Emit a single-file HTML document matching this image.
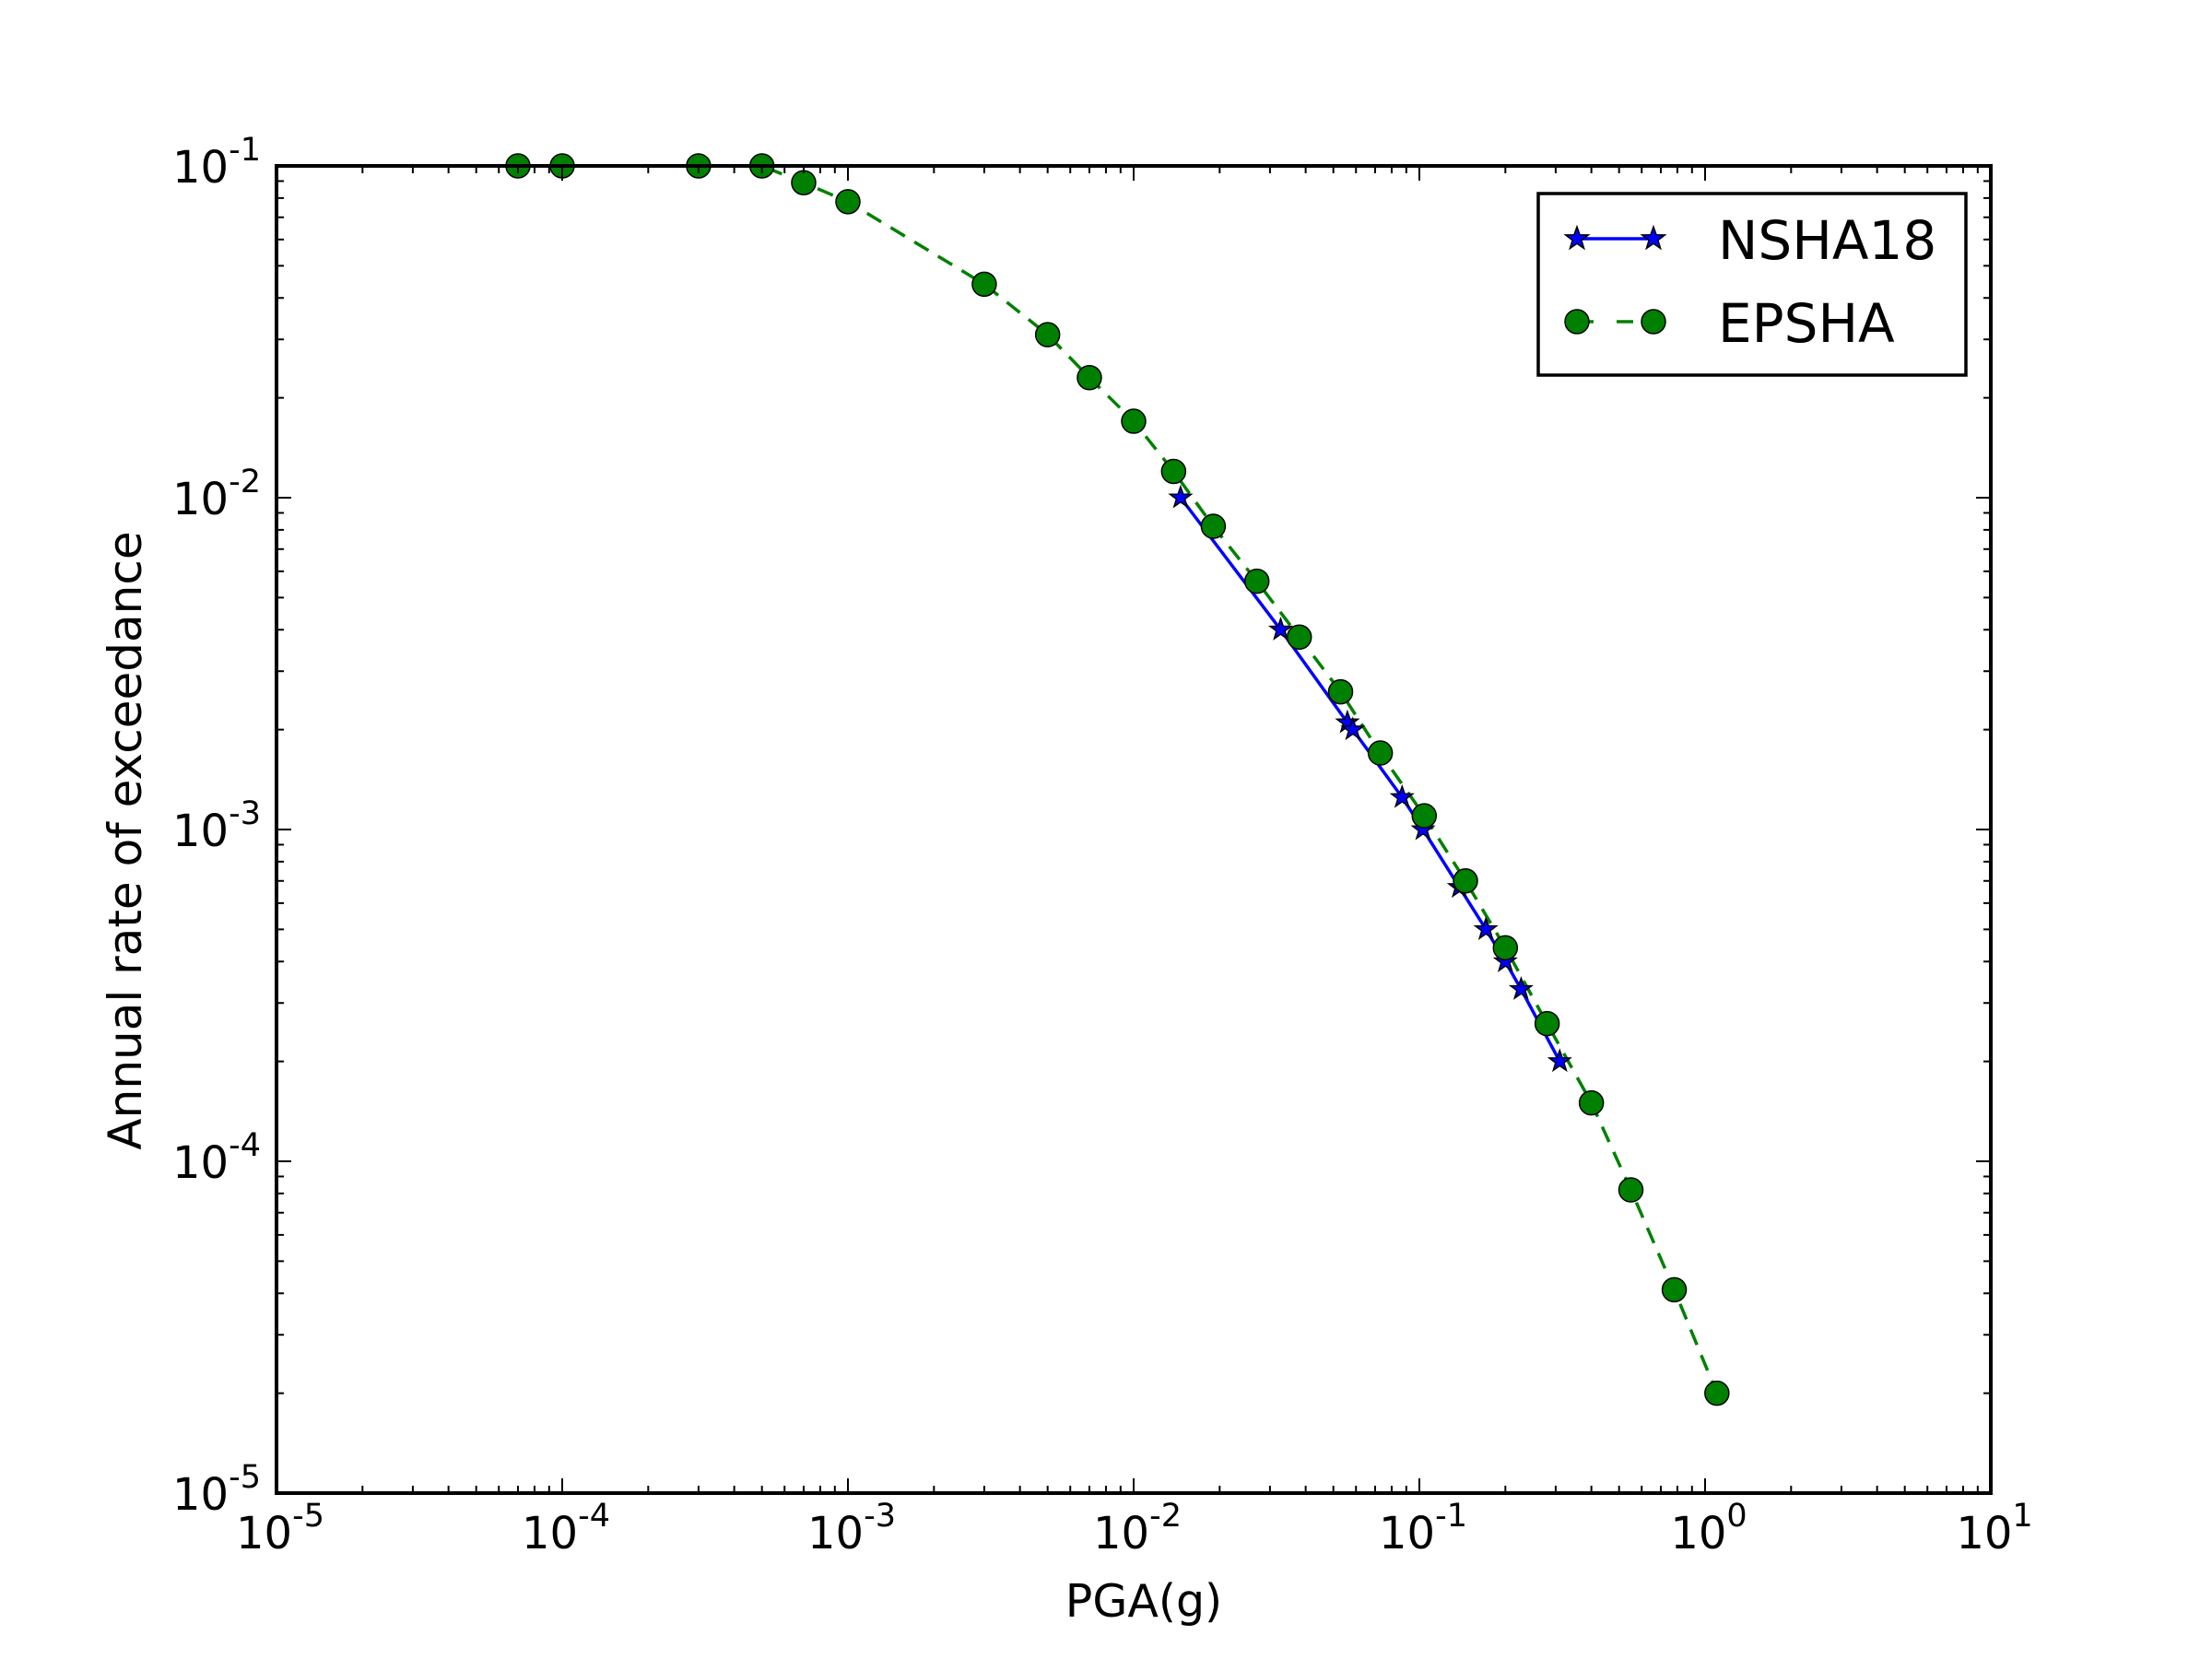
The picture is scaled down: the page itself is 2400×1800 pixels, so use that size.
<!DOCTYPE html>
<html><head><meta charset="utf-8"><style>
html,body{margin:0;padding:0;background:#fff;}
svg{display:block;font-family:"DejaVu Sans","Liberation Sans",sans-serif;}
</style></head><body>
<svg id="chart" width="2400" height="1800" viewBox="0 0 2400 1800" xmlns="http://www.w3.org/2000/svg">
<rect width="2400" height="1800" fill="#fff"/>
<g id="series"></g>
<g id="ticks"></g>
<rect x="300" y="180" width="1860" height="1440" fill="none" stroke="#000" stroke-width="4"/>
<g id="labels"></g>
<text x="1241" y="1754" font-size="49" text-anchor="middle">PGA(g)</text>
<text transform="translate(153,912) rotate(-90)" font-size="50" text-anchor="middle">Annual rate of exceedance</text>
<g transform="translate(-17,-2)">
<rect x="1686" y="212" width="464" height="197" fill="#fff" stroke="#000" stroke-width="3.5"/>
<line x1="1728" y1="261" x2="1811" y2="261" stroke="#0000ff" stroke-width="3.5"/>
<path id="ls1" fill="#0000ff" stroke="#000" stroke-width="1.5"/>
<path id="ls2" fill="#0000ff" stroke="#000" stroke-width="1.5"/>
<text x="1881" y="283" font-size="58">NSHA18</text>
<line x1="1728" y1="351" x2="1811" y2="351" stroke="#008000" stroke-width="3.5" stroke-dasharray="18,25"/>
<circle cx="1728" cy="351" r="13" fill="#008000" stroke="#000" stroke-width="1.5"/>
<circle cx="1811" cy="351" r="13" fill="#008000" stroke="#000" stroke-width="1.5"/>
<text x="1881" y="373" font-size="58">EPSHA</text>
</g>
</svg>
<script>
const epshaX = [7e-5,1e-4,3e-4,5e-4,7e-4,1e-3,3e-3,5e-3,7e-3,1e-2,0.0138,0.019,0.027,0.038,0.053,0.073,0.104,0.145,0.2,0.28,0.4,0.55,0.78,1.1];
const epshaY = [0.1,0.1,0.1,0.1,0.089,0.078,0.044,0.031,0.023,0.017,0.012,0.0082,0.0056,0.0038,0.0026,0.0017,0.0011,0.0007,0.00044,0.00026,0.00015,0.000082,0.000041,0.00002];
const nshaX = [0.0146,0.0327,0.056,0.0585,0.087,0.103,0.138,0.171,0.2,0.227,0.31];
const nshaY = [0.01,0.004,0.0021,0.002,0.00125,0.001,0.00067,0.0005,0.0004,0.00033,0.0002];
const xTickExps = [-5,-4,-3,-2,-1,0,1];
const yTickExps = [-5,-4,-3,-2,-1];

const NS='http://www.w3.org/2000/svg';
const L=300,R=2160,T=180,B=1620;
function xs(v){return L+(Math.log10(v)+5)/6*(R-L);}
function ys(v){return B-(Math.log10(v)+5)/4*(B-T);}
function mk(tag,attrs,parent){const e=document.createElementNS(NS,tag);for(const k in attrs)e.setAttribute(k,attrs[k]);parent.appendChild(e);return e;}
function starPath(cx,cy,r){let d='';for(let i=0;i<10;i++){const rr=i%2?r*0.4:r;const a=-Math.PI/2+i*Math.PI/5;d+=(i?'L':'M')+(cx+rr*Math.cos(a)).toFixed(1)+','+(cy+rr*Math.sin(a)).toFixed(1);}return d+'Z';}
document.getElementById('ls1').setAttribute('d',starPath(1728,261,13));
document.getElementById('ls2').setAttribute('d',starPath(1811,261,13));

const ticks=document.getElementById('ticks');
const labels=document.getElementById('labels');
for(let e=-5;e<=1;e++){
  for(let m=1;m<=9;m++){
    if(e===1&&m>1)break;
    const x=xs(m*Math.pow(10,e));const len=m===1?16:8;
    const t1=mk('line',{x1:x,y1:B,x2:x,y2:B-len,stroke:'#000','stroke-width':2},ticks);
    
    
    mk('line',{x1:x,y1:T,x2:x,y2:T+len,stroke:'#000','stroke-width':2},ticks);
  }
}
for(let e=-5;e<=-1;e++){
  for(let m=1;m<=9;m++){
    if(e===-1&&m>1)break;
    const y=ys(m*Math.pow(10,e));const len=m===1?16:8;
    const t1=mk('line',{x1:L,y1:y,x2:L+len,y2:y,stroke:'#000','stroke-width':2},ticks);
    
    
    mk('line',{x1:R,y1:y,x2:R-len,y2:y,stroke:'#000','stroke-width':2},ticks);
  }
}
xTickExps.forEach(e=>{
  const t=mk('text',{x:xs(Math.pow(10,e))+4,y:1680,'font-size':48,'text-anchor':'middle'},labels);
  
  
  t.innerHTML='10<tspan dy="-24" font-size="35">'+e+'</tspan>';
});
yTickExps.forEach(e=>{
  const t=mk('text',{x:283,y:ys(Math.pow(10,e))+18,'font-size':48,'text-anchor':'end'},labels);
  
  
  t.innerHTML='10<tspan dy="-24" font-size="35">'+e+'</tspan>';
});

const series=document.getElementById('series');
const clip=mk('clipPath',{id:'pc'},series);mk('rect',{x:L,y:T-15,width:R-L,height:B-T+15},clip);
const g=mk('g',{'clip-path':'url(#pc)'},series);
const ep=mk('polyline',{points:epshaX.map((x,i)=>xs(x)+','+ys(epshaY[i])).join(' '),fill:'none',stroke:'#008000','stroke-width':3.5,'stroke-dasharray':'18,12'},g);


const ns=mk('polyline',{points:nshaX.map((x,i)=>xs(x)+','+ys(nshaY[i])).join(' '),fill:'none',stroke:'#0000ff','stroke-width':3.5},g);


nshaX.forEach((x,i)=>{
  const p=mk('path',{d:starPath(xs(x),ys(nshaY[i]),12),fill:'#0000ff',stroke:'#000','stroke-width':1.5},g);
  
  
});
epshaX.forEach((x,i)=>{
  const c=mk('circle',{cx:xs(x),cy:ys(epshaY[i]),r:13,fill:'#008000',stroke:'#000','stroke-width':1.5},g);
  
  
});
</script>
</body></html>
